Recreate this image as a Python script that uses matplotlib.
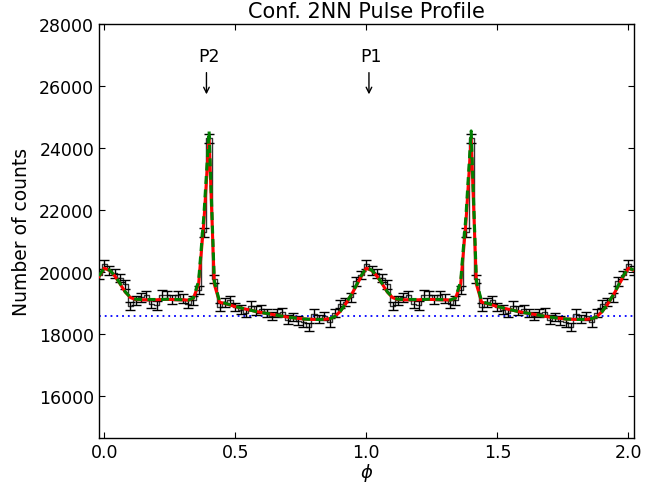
import numpy as np
import matplotlib
matplotlib.use("Agg")
import matplotlib.pyplot as plt

# ---- data (one rotation, 50 phase bins centred at 0.00, 0.02, ..., 0.98) ----
bin_phase = [i * 0.02 for i in range(50)]
counts = [20250, 20050, 19950, 19800, 19600, 18900, 19080, 19180, 19240, 18970,
          18920, 19270, 19260, 19110, 19240, 19140, 18970, 19080, 19420, 21280,
          24310, 19770, 18860, 19020, 19100, 18860, 18780, 18680, 18910, 18750,
          18800, 18680, 18580, 18680, 18700, 18460, 18540, 18430, 18370, 18220,
          18650, 18480, 18570, 18370, 18680, 18970, 19030, 19180, 19700, 19900]
model_red = [20120, 20050, 19870, 19620, 19350, 19170, 19110, 19100, 19100, 19100,
             19100, 19110, 19110, 19110, 19100, 19100, 19090, 19150, 19600, 21600,
             24300, 19600, 19020, 18980, 18930, 18880, 18840, 18800, 18760, 18720,
             18690, 18660, 18630, 18600, 18570, 18540, 18520, 18500, 18480, 18470,
             18465, 18465, 18470, 18490, 18560, 18720, 18950, 19220, 19520, 19850]
model_green = [20130, 20060, 19880, 19630, 19360, 19180, 19120, 19110, 19110, 19110,
               19110, 19110, 19120, 19120, 19110, 19100, 19090, 19160, 19700, 21800,
               24550, 19700, 19040, 18990, 18940, 18890, 18840, 18800, 18760, 18720,
               18690, 18660, 18630, 18600, 18570, 18540, 18520, 18500, 18480, 18470,
               18465, 18465, 18470, 18490, 18560, 18720, 18960, 19230, 19540, 19870]
background_level = 18570
peak_labels = ["P2", "P1"]
peak_phase = [0.39, 1.01]

# ---- build two rotations (-0.02 .. 2.02) ----
idx = np.arange(-1, 102)
phase = idx * 0.02
wrap = idx % 50
cnt = np.array(counts)[wrap]
err = np.sqrt(cnt)
red = np.array(model_red)[wrap]
green = np.array(model_green)[wrap]

plt.rcParams.update({
    "font.family": "DejaVu Sans",
    "xtick.direction": "in", "ytick.direction": "in",
    "xtick.top": True, "ytick.right": True,
    "xtick.major.size": 4, "ytick.major.size": 4,
    "xtick.labelsize": 12.5, "ytick.labelsize": 12.5,
    "axes.linewidth": 1.0,
})

fig = plt.figure(figsize=(6.68, 4.89), dpi=100)
ax = fig.add_axes([0.1482, 0.1029, 0.8004, 0.846])

ax.plot(phase, cnt, drawstyle="steps-mid", color="#333333", lw=1.0, zorder=2)
ax.errorbar(phase, cnt, yerr=err, fmt="none", ecolor="black", elinewidth=1.0,
            capsize=3.3, capthick=1.0, zorder=3)
ax.axhline(background_level, color="blue", ls=(0, (1, 2.2)), lw=1.3, zorder=1)
ax.plot(phase, red, color="red", lw=2.2, zorder=4)
ax.plot(phase, green, color="green", lw=2.2, ls=(0, (2.6, 1.8)), zorder=5)

for lab, ph in zip(peak_labels, peak_phase):
    ax.annotate("", xy=(ph, 25640), xytext=(ph, 26520),
                arrowprops=dict(arrowstyle="->", color="black", lw=1.0))
    ax.text(ph + 0.008, 26960, lab, ha="center", va="center", fontsize=12.5)

ax.set_xlim(-0.02, 2.02)
ax.set_ylim(14650, 28000)
ax.set_xticks([0.0, 0.5, 1.0, 1.5, 2.0])
ax.set_yticks([16000, 18000, 20000, 22000, 24000, 26000, 28000])
ax.set_title("Conf. 2NN Pulse Profile", fontsize=15, pad=5)
ax.set_xlabel(r"$\phi$", fontsize=13, labelpad=0)
ax.set_ylabel("Number of counts", fontsize=13.5, labelpad=6)

fig.savefig("out.png", dpi=100)
